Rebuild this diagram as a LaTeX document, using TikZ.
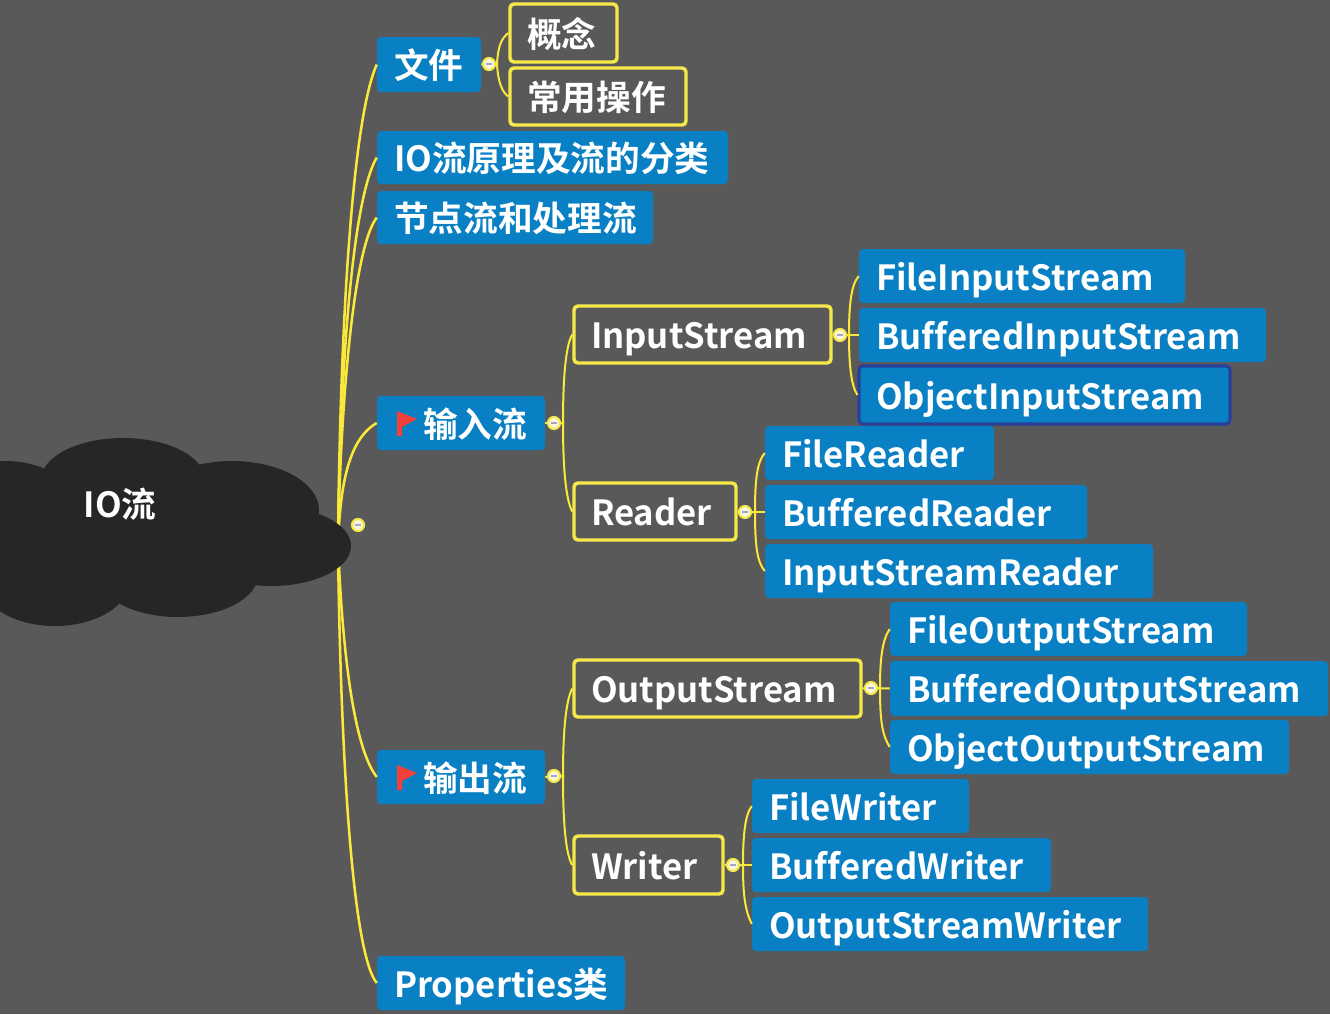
\documentclass[tikz,border=0pt]{standalone}
\usepackage{fontspec}
\usetikzlibrary{calc}
\setmainfont{Noto Sans CJK SC}[BoldFont={Noto Sans CJK SC Bold},Ligatures=NoCommon]
\definecolor{mmbg}{HTML}{595959}
\definecolor{mmblue}{HTML}{0880C3}
\definecolor{mmyellow}{HTML}{F7E84A}
\definecolor{mmline}{HTML}{FBE93A}
\definecolor{mmcloud}{HTML}{262626}
\definecolor{mmnavy}{HTML}{27409A}
\definecolor{mmflag}{HTML}{F4403A}
\definecolor{mmdot}{HTML}{F8F6DC}
\definecolor{mmminus}{HTML}{A9A4C8}
\tikzset{
  x=0.75pt,y=-0.75pt,
  mmtext/.style={text=white,font=\fontsize{26pt}{30pt}\selectfont\bfseries,align=left,inner ysep=0pt,inner xsep=12.75pt,text height=22.6pt,text depth=1.6pt,rounded corners=3pt},
  bluebox/.style={mmtext,fill=mmblue},
  yellowbox/.style={mmtext,draw=mmyellow,line width=2.6pt,fill=mmbg},
  navybox/.style={mmtext,fill=mmblue,draw=mmnavy,line width=2.4pt},
  mmlink/.style={draw=mmline,line width=1.5pt},
  mmroot/.style={draw=mmline,line width=1.9pt},
  mmdotst/.style={circle,draw=mmyellow,fill=mmdot,line width=1.6pt,minimum size=8pt,inner sep=0pt},
}
\newcommand\mmbox[7][]{%
  \pgfmathsetmacro\mmcx{(#4+#6)/2}\pgfmathsetmacro\mmcy{(#5+#7)/2}%
  \pgfmathsetmacro\mmw{(#6-#4)*0.75}\pgfmathsetmacro\mmh{(#7-#5)*0.75}%
  \pgfmathsetmacro\mmtw{\mmw-25.5}%
  \node[#2,minimum height=\mmh pt,text width=\mmtw pt] (#3) at (\mmcx,\mmcy) {\mbox{#1}};}
\newcommand\mmflag[2]{%
  \fill[mmflag] (#1,#2) -- (#1+20,#2+8) -- (#1+5,#2+16) -- (#1+5,#2+25) -- (#1,#2+25) -- cycle;}
\begin{document}
\begin{tikzpicture}
\path[use as bounding box] (0,0) rectangle (1330,1014);
\fill[mmbg] (0,0) rectangle (1330,1014);
\coordinate (hub) at (338,545);
% main boxes
\mmbox[文件]{bluebox}{wj}{377}{37}{481}{92}
\mmbox[概念]{yellowbox}{gn}{510}{4}{617}{62}
\mmbox[常用操作]{yellowbox}{cy}{510}{68}{686}{125}
\mmbox[IO流原理及流的分类]{bluebox}{yl}{377}{131}{728}{184}
\mmbox[节点流和处理流]{bluebox}{jd}{377}{191}{653}{244}
\mmbox[\hspace*{21.75pt}输入流]{bluebox}{sr}{377}{396}{545}{450}
\mmbox[\hspace*{21.75pt}输出流]{bluebox}{sc}{377}{750}{545}{804}
\mmbox[Properties类]{bluebox}{pr}{377}{956}{625}{1010}
\mmbox[InputStream]{yellowbox}{is}{574}{306}{831}{363}
\mmbox[Reader]{yellowbox}{rd}{574}{483}{736}{540}
\mmbox[OutputStream]{yellowbox}{os}{574}{660}{861}{717}
\mmbox[Writer]{yellowbox}{wr}{574}{836}{723}{894}
\mmbox[FileInputStream]{bluebox}{fis}{859}{249}{1185}{303}
\mmbox[BufferedInputStream]{bluebox}{bis}{859}{308}{1266}{362}
\mmbox[ObjectInputStream]{navybox}{ois}{859}{366}{1230}{424}
\mmbox[FileReader]{bluebox}{fr}{765}{426}{994}{480}
\mmbox[BufferedReader]{bluebox}{br}{765}{485}{1087}{539}
\mmbox[InputStreamReader]{bluebox}{isr}{765}{544}{1153}{598}
\mmbox[FileOutputStream]{bluebox}{fos}{890}{602}{1247}{656}
\mmbox[BufferedOutputStream]{bluebox}{bos}{890}{661}{1328}{716}
\mmbox[ObjectOutputStream]{bluebox}{oos}{890}{720}{1289}{774}
\mmbox[FileWriter]{bluebox}{fw}{752}{779}{969}{833}
\mmbox[BufferedWriter]{bluebox}{bw}{752}{838}{1051}{892}
\mmbox[OutputStreamWriter]{bluebox}{osw}{752}{897}{1148}{951}
% collapse dots
\node[mmdotst] (d0) at (358,525) {};
\node[mmdotst] (d1) at (489,64) {};
\node[mmdotst] (d2) at (554,423) {};
\node[mmdotst] (d3) at (554,776) {};
\node[mmdotst] (d4) at (840,335) {};
\node[mmdotst] (d5) at (745,512) {};
\node[mmdotst] (d6) at (871,688) {};
\node[mmdotst] (d7) at (733,865) {};
% connectors from the root (they run behind the cloud)
\draw[mmroot] (hub) .. controls (340,330) and (352,120) .. (wj.west);
\draw[mmroot] (hub) .. controls (340,370) and (352,200) .. (yl.west);
\draw[mmroot] (hub) .. controls (340,420) and (352,250) .. (jd.west);
\draw[mmroot] (hub) .. controls (340,490) and (347,440) .. (sr.west);
\draw[mmroot] (hub) .. controls (342,640) and (352,745) .. (sc.west);
\draw[mmroot] (hub) .. controls (340,720) and (350,950) .. (pr.west);
% cloud
\begin{scope}
\clip (0,0) rectangle (1330,1014);
\fill[mmcloud]
  (123,480) ellipse [x radius=82,y radius=42]
  (232,510) ellipse [x radius=87,y radius=49]
  (271,546) ellipse [x radius=80,y radius=40]
  (178,575) ellipse [x radius=80,y radius=42]
  (55,580) ellipse [x radius=75,y radius=46]
  (5,505) ellipse [x radius=70,y radius=44]
  (110,530) ellipse [x radius=150,y radius=60];
\end{scope}
\node[text=white,font=\fontsize{26pt}{30pt}\selectfont\bfseries,inner sep=0pt] (root) at (120,504) {IO流};
% second level
\draw[mmlink] (wj.east) -- (d1);
\draw[mmlink] (d1) -- (497,64) .. controls (498,45) and (502,38) .. (gn.west);
\draw[mmlink] (d1) -- (497,64) .. controls (498,82) and (502,92) .. (cy.west);
\draw[mmlink] (sr.east) -- (d2);
\draw[mmlink] (d2) -- (563,423) .. controls (563,375) and (566,345) .. (is.west);
\draw[mmlink] (d2) -- (563,423) .. controls (563,470) and (566,500) .. (rd.west);
\draw[mmlink] (sc.east) -- (d3);
\draw[mmlink] (d3) -- (563,776) .. controls (563,730) and (566,700) .. (os.west);
\draw[mmlink] (d3) -- (563,776) .. controls (563,825) and (566,855) .. (wr.west);
% third level
\draw[mmlink] (is.east) -- (d4);
\draw[mmlink] (d4) -- (849,335) .. controls (849,305) and (851,285) .. (fis.west);
\draw[mmlink] (d4) -- (bis.west);
\draw[mmlink] (d4) -- (849,335) .. controls (849,365) and (851,385) .. (ois.west);
\draw[mmlink] (rd.east) -- (d5);
\draw[mmlink] (d5) -- (755,512) .. controls (755,480) and (757,462) .. (fr.west);
\draw[mmlink] (d5) -- (br.west);
\draw[mmlink] (d5) -- (755,512) .. controls (755,545) and (757,562) .. (isr.west);
\draw[mmlink] (os.east) -- (d6);
\draw[mmlink] (d6) -- (880,688) .. controls (880,660) and (882,640) .. (fos.west);
\draw[mmlink] (d6) -- (bos.west);
\draw[mmlink] (d6) -- (880,688) .. controls (880,720) and (882,735) .. (oos.west);
\draw[mmlink] (wr.east) -- (d7);
\draw[mmlink] (d7) -- (743,865) .. controls (743,835) and (745,815) .. (fw.west);
\draw[mmlink] (d7) -- (bw.west);
\draw[mmlink] (d7) -- (743,865) .. controls (743,895) and (745,910) .. (osw.west);
% redraw dots on top, with their minus marks
\foreach \d in {d0,d1,d2,d3,d4,d5,d6,d7}{
  \draw[draw=mmyellow,fill=mmdot,line width=1.6pt] (\d) circle [radius=6];
  \draw[draw=mmminus,line width=0.8pt] ($(\d)+(-3,0)$) -- ($(\d)+(3,0)$);
}
\mmflag{397}{411}
\mmflag{397}{765}
\end{tikzpicture}
\end{document}
